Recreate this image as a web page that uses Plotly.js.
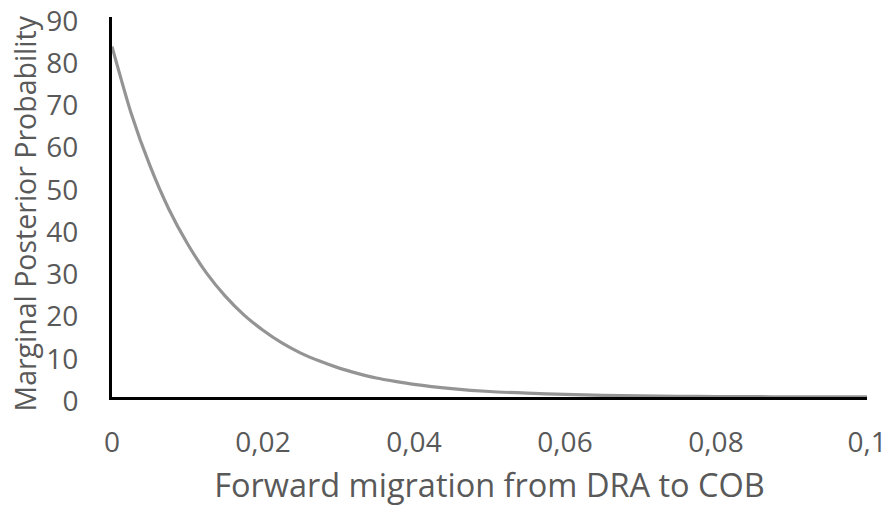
<!DOCTYPE html>
<html>
<head>
<meta charset="utf-8">
<script src="https://cdn.plot.ly/plotly-3.0.1.min.js"></script>
<style>html,body{margin:0;padding:0;background:#fff;}#chart{width:893px;height:522px;}</style>
</head>
<body>
<div id="chart"></div>
<script>
// Values
const migrationRate = [0, 0.0025, 0.005, 0.0075, 0.01, 0.0125, 0.015, 0.0175, 0.02, 0.0225, 0.025, 0.0275, 0.03, 0.0325, 0.035, 0.0375, 0.04, 0.045, 0.05, 0.055, 0.06, 0.065, 0.07, 0.075, 0.08, 0.085, 0.09, 0.095, 0.1];
const posteriorProb = [83.0, 67.4, 54.9, 44.6, 36.3, 29.4, 23.9, 19.4, 15.8, 12.8, 10.4, 8.5, 6.9, 5.6, 4.5, 3.7, 3.0, 2.0, 1.3, 0.9, 0.6, 0.4, 0.25, 0.17, 0.11, 0.07, 0.05, 0.03, 0.02];
const xTickVals = [0, 0.02, 0.04, 0.06, 0.08, 0.1];
const xTickText = ["0", "0,02", "0,04", "0,06", "0,08", "0,1"];
const yTickVals = [0, 10, 20, 30, 40, 50, 60, 70, 80, 90];
const yTickText = ["0", "10", "20", "30", "40", "50", "60", "70", "80", "90"];
const xTitle = "Forward migration from DRA to COB";
const yTitle = "Marginal Posterior Probability";

const base = "Open Sans, sans-serif";
const tickFont = {family: base, size: 28, color: "#595959"};
const xTitleFont = {family: base, size: 32.5, color: "#595959"};
const yTitleFont = {family: base, size: 28.5, color: "#595959"};

Plotly.newPlot("chart", [{
  x: migrationRate,
  y: posteriorProb,
  type: "scatter",
  mode: "lines",
  line: {color: "#949494", width: 3.2, shape: "spline", smoothing: 0.6},
  hoverinfo: "skip",
  cliponaxis: false
}], {
  width: 893, height: 522,
  margin: {l: 112, r: 26, t: 17, b: 125},
  paper_bgcolor: "#fff", plot_bgcolor: "#fff",
  showlegend: false,
  font: tickFont,
  xaxis: {
    range: [0, 0.1], tickmode: "array", tickvals: xTickVals, ticktext: xTickText,
    showgrid: false, zeroline: false,
    showline: true, linecolor: "#000", linewidth: 3,
    ticks: "outside", ticklen: 18, tickcolor: "rgba(0,0,0,0)",
    tickfont: tickFont, layer: "below traces", ticklabeloverflow: "allow",
    title: {text: xTitle, font: xTitleFont, standoff: 16}
  },
  yaxis: {
    range: [0, 90], tickmode: "array", tickvals: yTickVals, ticktext: yTickText,
    showgrid: false, zeroline: false,
    showline: true, linecolor: "#000", linewidth: 3,
    ticks: "outside", ticklen: 25, tickcolor: "rgba(0,0,0,0)",
    tickfont: tickFont, layer: "below traces", ticklabeloverflow: "allow",
    ticklabelshift: 4
  },
  annotations: [{
    text: yTitle, font: yTitleFont, textangle: -90,
    xref: "paper", yref: "paper",
    x: (24 - 112) / 755, y: (397 - 213.5) / 380,
    xanchor: "center", yanchor: "middle", showarrow: false
  }]
}, {staticPlot: true});
</script>
</body>
</html>
